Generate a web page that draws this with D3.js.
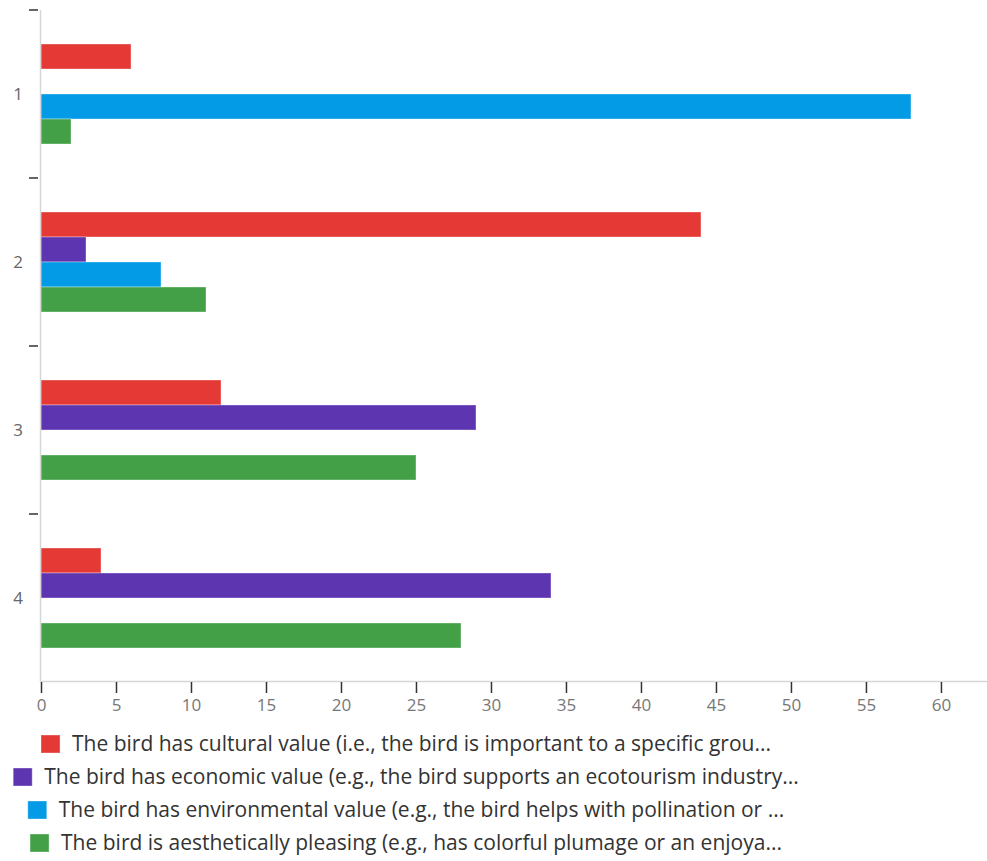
<!DOCTYPE html>
<html>
<head>
<meta charset="utf-8">
<script src="https://d3js.org/d3.v7.min.js"></script>
<style>
  html, body { margin: 0; padding: 0; background: #fff; }
  svg { display: block; font-family: "Open Sans", "Noto Sans", sans-serif; }
</style>
</head>
<body>
<svg id="chart" width="987" height="861"></svg>
<script>
// Answer groups shown on the vertical axis
const categories = ["1", "2", "3", "4"];

// Series names (legend text, already truncated)
const seriesNames = [
  "The bird has cultural value (i.e., the bird is important to a specific grou...",
  "The bird has economic value (e.g., the bird supports an ecotourism industry...",
  "The bird has environmental value (e.g., the bird helps with pollination or ...",
  "The bird is aesthetically pleasing (e.g., has colorful plumage or an enjoya..."
];

// Counts per series, one value per category
const cultural      = [6, 44, 12, 4];
const economic      = [0, 3, 29, 34];
const environmental = [58, 8, 0, 0];
const aesthetic     = [2, 11, 25, 28];

const seriesValues = [cultural, economic, environmental, aesthetic];
const seriesColors = ["#e53935", "#5e35b1", "#039be5", "#43a047"];

const xTicks = [0, 5, 10, 15, 20, 25, 30, 35, 40, 45, 50, 55, 60];

const svg = d3.select("#chart");
const margin = { left: 41, top: 10 };
const plotBottom = 682;
const plotRight = 987;

const x = d3.scaleLinear().domain([0, 63.07]).range([margin.left, plotRight]);
const y = d3.scaleBand().domain(categories).range([margin.top, plotBottom]);
// Bars occupy the middle of each band, leaving a gap above and below the group
const groupPad = 34;
const inner = d3.scaleBand().domain(d3.range(seriesNames.length))
  .range([groupPad, y.bandwidth() - groupPad]);

// Bars
seriesValues.forEach((vals, si) => {
  svg.append("g")
    .selectAll("rect")
    .data(categories.map((c, i) => ({ c, v: vals[i] })).filter(d => d.v > 0))
    .join("rect")
    .attr("x", x(0))
    .attr("y", d => y(d.c) + inner(si))
    .attr("width", d => x(d.v) - x(0))
    .attr("height", inner.bandwidth())
    .attr("fill", seriesColors[si])
    .attr("stroke", "#fff")
    .attr("stroke-opacity", 0.35)
    .attr("stroke-width", 1);
});

// Axis frame lines
svg.append("line")
  .attr("x1", margin.left - 0.5).attr("x2", margin.left - 0.5)
  .attr("y1", margin.top).attr("y2", plotBottom)
  .attr("stroke", "#d6d6d6").attr("stroke-width", 1.5);
svg.append("line")
  .attr("x1", margin.left - 0.5).attr("x2", plotRight)
  .attr("y1", plotBottom - 0.5).attr("y2", plotBottom - 0.5)
  .attr("stroke", "#d6d6d6").attr("stroke-width", 1.5);

// Y axis: ticks at band boundaries, labels at band centres
svg.append("g").selectAll("line")
  .data(categories)
  .join("line")
  .attr("x1", margin.left - 12).attr("x2", margin.left - 3)
  .attr("y1", d => y(d)).attr("y2", d => y(d))
  .attr("stroke", "#333").attr("stroke-width", 1.5);
svg.append("g").selectAll("text")
  .data(categories)
  .join("text")
  .attr("x", 23)
  .attr("y", d => y(d) + y.bandwidth() / 2)
  .attr("dy", "0.35em")
  .attr("text-anchor", "end")
  .attr("fill", "#666")
  .attr("font-size", 17)
  .text(d => d);

// X axis
const xAxis = d3.axisBottom(x).tickValues(xTicks).tickSize(11).tickPadding(6).tickFormat(d3.format("d"));
const gx = svg.append("g").attr("transform", `translate(0,${plotBottom})`).call(xAxis);
gx.select(".domain").remove();
gx.selectAll(".tick line").attr("stroke", "#333").attr("stroke-width", 1.5);
gx.selectAll(".tick text").attr("fill", "#777").attr("font-size", 17)
  .attr("font-family", "\"Open Sans\", \"Noto Sans\", sans-serif");

// Legend: one centred row per series
const legend = svg.append("g");
const legendCenter = 406;
const legendTop = 744;
const rowGap = 33;
seriesNames.forEach((name, i) => {
  const row = legend.append("g");
  const t = row.append("text")
    .attr("font-size", 21)
    .attr("fill", "#333")
    .attr("dy", "0.35em")
    .text(name);
  const tw = t.node().getComputedTextLength();
  const total = 19 + 12 + tw;
  const x0 = legendCenter - total / 2;
  row.append("rect")
    .attr("x", x0).attr("y", legendTop + i * rowGap - 9)
    .attr("width", 19).attr("height", 18)
    .attr("fill", seriesColors[i])
    .attr("stroke", "#fff").attr("stroke-opacity", 0.35);
  t.attr("x", x0 + 31).attr("y", legendTop + i * rowGap);
});
</script>
</body>
</html>
